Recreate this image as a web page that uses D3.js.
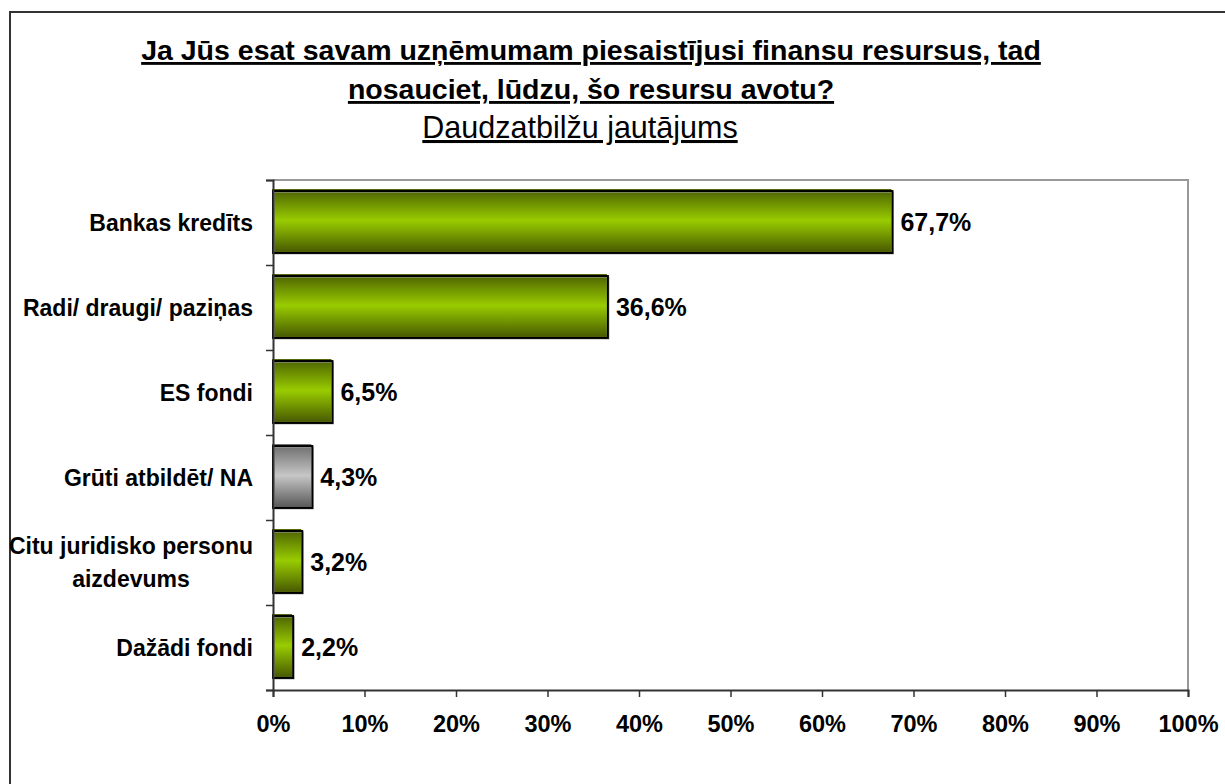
<!DOCTYPE html>
<meta charset="utf-8">
<style>
body { margin: 0; background: #fff; }
svg { display: block; font-family: Arial, "Liberation Sans", sans-serif; }
</style>
<body>
<div id="chart"></div>
<script src="https://cdnjs.cloudflare.com/ajax/libs/d3/7.8.5/d3.min.js"></script>
<script>

var width = 1225,
    height = 784;

// data
var categories = [["Bankas kredīts"], ["Radi/ draugi/ paziņas"], ["ES fondi"],
    ["Grūti atbildēt/ NA"], ["Citu juridisko personu", "aizdevums"], ["Dažādi fondi"]];
var values = [67.7, 36.6, 6.5, 4.3, 3.2, 2.2];
var greyBar = [false, false, false, true, false, false];
var xTicks = [0, 10, 20, 30, 40, 50, 60, 70, 80, 90, 100];
var titleLines = ["Ja Jūs esat savam uzņēmumam piesaistījusi finansu resursus, tad",
    "nosauciet, lūdzu, šo resursu avotu?"];
var subtitle = "Daudzatbilžu jautājums";

var plotL = 273, plotR = 1188, plotT = 180, plotB = 690;

var svg = d3.select("#chart").append("svg")
    .attr("width", width)
    .attr("height", height);

var defs = svg.append("defs");
function grad(id, edgeTop, mid, edgeBot) {
    var g = defs.append("linearGradient").attr("id", id)
        .attr("x1", 0).attr("y1", 0).attr("x2", 0).attr("y2", 1);
    g.append("stop").attr("offset", "0%").attr("stop-color", edgeTop);
    g.append("stop").attr("offset", "50%").attr("stop-color", mid);
    g.append("stop").attr("offset", "100%").attr("stop-color", edgeBot);
}
grad("gGreen", "#4a5f00", "#99cc00", "#485a00");
grad("gGrey", "#6a6a6a", "#c6c6c6", "#595959");

// outer frame
svg.append("rect")
    .attr("x", 10).attr("y", 12)
    .attr("width", 1240).attr("height", 800)
    .attr("fill", "none").attr("stroke", "#333").attr("stroke-width", 2);

var x = d3.scaleLinear().domain([0, 100]).range([plotL, plotR]);
var y = d3.scaleBand().domain(d3.range(categories.length))
    .range([plotT, plotB]).paddingInner(0.26).paddingOuter(0.13);
var yEdge = d3.scaleLinear().domain([0, categories.length]).range([plotT, plotB]);

// plot area border (top + right)
svg.append("path")
    .attr("d", "M" + plotL + "," + plotT + "H" + plotR + "V" + plotB)
    .attr("fill", "none").attr("stroke", "#999").attr("stroke-width", 2);

// bars
var bars = svg.append("g");
values.forEach(function(v, i) {
    var by = y(i), bh = y.bandwidth(), bw = x(v) - x(0);
    bars.append("rect")
        .attr("x", x(0) - 1).attr("y", by - 2)
        .attr("width", bw).attr("height", bh)
        .attr("fill", greyBar[i] ? "url(#gGrey)" : "url(#gGreen)");
    bars.append("rect")
        .attr("x", x(0) + 1).attr("y", by + 1)
        .attr("width", bw).attr("height", bh - 1)
        .attr("fill", "none").attr("stroke", "#aaa").attr("stroke-width", 1);
    bars.append("rect")
        .attr("x", x(0)).attr("y", by)
        .attr("width", bw).attr("height", bh - 1)
        .attr("fill", "none").attr("stroke", "#000").attr("stroke-width", 2);
});

// axes
var yAxis = svg.append("g")
    .attr("transform", "translate(" + plotL + ",0)")
    .call(d3.axisLeft(yEdge).ticks(categories.length).tickSize(7).tickFormat(""));
yAxis.select(".domain").attr("stroke", "#333").attr("stroke-width", 2);
yAxis.selectAll(".tick line").attr("stroke", "#333").attr("stroke-width", 1.5);

var xAxis = svg.append("g")
    .attr("transform", "translate(0," + plotB + ")")
    .call(d3.axisBottom(x).tickValues(xTicks).tickSize(7).tickPadding(18)
        .tickFormat(function(d) { return d + "%"; }));
xAxis.select(".domain").attr("stroke", "#333").attr("stroke-width", 2);
xAxis.selectAll(".tick line").attr("stroke", "#333").attr("stroke-width", 1.5);
xAxis.selectAll("text")
    .attr("fill", "#000")
    .style("font-size", "23.5px").style("font-weight", "bold")
    .style("font-family", "Arial, 'Liberation Sans', sans-serif");

// category labels
var catG = svg.append("g")
    .style("font-size", "23px").style("font-weight", "bold");
categories.forEach(function(lines, i) {
    var cy = y(i) + y.bandwidth() / 2;
    var t = catG.append("text").attr("fill", "#000");
    var lh = 33;
    lines.forEach(function(line, k) {
        t.append("tspan").text(line)
            .attr("y", cy + (k - (lines.length - 1) / 2) * lh)
            .attr("dy", "0.35em");
    });
    var maxW = 0;
    t.selectAll("tspan").each(function() { maxW = Math.max(maxW, this.getComputedTextLength()); });
    t.attr("text-anchor", "middle");
    t.selectAll("tspan").attr("x", 253 - maxW / 2);
});

// value labels
svg.append("g")
    .style("font-size", "25px").style("font-weight", "bold")
    .selectAll("text").data(values).join("text")
    .attr("x", function(d) { return x(d) + 8; })
    .attr("y", function(d, i) { return y(i) + y.bandwidth() / 2; })
    .attr("dy", "0.35em")
    .text(function(d) { return d3.format(".1f")(d).replace(".", ",") + "%"; });

// titles
var titleG = svg.append("g").attr("text-anchor", "middle");
titleLines.forEach(function(line, k) {
    titleG.append("text")
        .attr("x", 591).attr("y", 60 + k * 39)
        .style("font-size", "28.5px").style("font-weight", "bold")
        .style("text-decoration", "underline")
        .text(line);
});
titleG.append("text")
    .attr("x", 580).attr("y", 138)
    .style("font-size", "30.5px")
    .style("text-decoration", "underline")
    .text(subtitle);

</script>
</body>
